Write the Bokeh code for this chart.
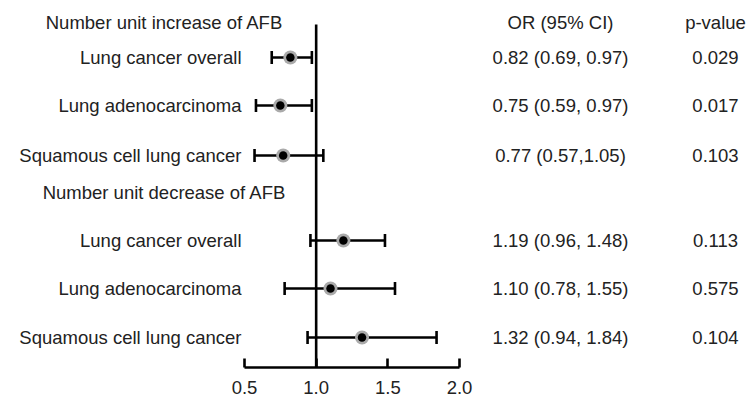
from bokeh.plotting import figure
from bokeh.models import Range1d, ColumnDataSource, LinearAxis, FixedTicker
from bokeh.core.properties import value
from bokeh.embed import file_html
from bokeh.resources import INLINE

# ---- data ----
labels = ["Lung cancer overall", "Lung adenocarcinoma", "Squamous cell lung cancer",
          "Lung cancer overall", "Lung adenocarcinoma", "Squamous cell lung cancer"]
or_vals = [0.82, 0.75, 0.77, 1.19, 1.10, 1.32]
ci_low = [0.69, 0.58, 0.57, 0.96, 0.78, 0.94]
ci_high = [0.97, 0.97, 1.05, 1.48, 1.55, 1.84]
ci_text = ["0.82 (0.69, 0.97)", "0.75 (0.59, 0.97)", "0.77 (0.57,1.05)",
           "1.19 (0.96, 1.48)", "1.10 (0.78, 1.55)", "1.32 (0.94, 1.84)"]
p_text = ["0.029", "0.017", "0.103", "0.113", "0.575", "0.104"]
group_titles = ["Number unit increase of AFB", "Number unit decrease of AFB"]
col_titles = ["OR (95% CI)", "p-value"]
x_ticks = [0.5, 1.0, 1.5, 2.0]

# ---- layout (pixel rows, not data) ----
W, H = 746, 399
BOTTOM = 32
PX_PER_UNIT = 143.33
X0_PX = 244  # pixel of x=0.5
xmin = 0.5 - X0_PX / PX_PER_UNIT
xmax = 0.5 + (W - X0_PX) / PX_PER_UNIT
px2x = lambda px: 0.5 + (px - X0_PX) / PX_PER_UNIT
frame_h = H - BOTTOM
row_y = [57, 105, 155, 240, 288, 337]
header_y = [22, 192]

p = figure(width=W, height=H, output_backend="svg", toolbar_location=None,
           x_range=Range1d(xmin, xmax), y_range=Range1d(frame_h, 0),
           min_border_left=0, min_border_right=0, min_border_top=0,
           min_border_bottom=BOTTOM, x_axis_location=None, y_axis_location=None)
p.outline_line_color = None
p.grid.visible = False
p.background_fill_color = "white"
p.border_fill_color = "white"

FONT = value("Liberation Sans")
FS = "18.5px"
TC = "#222222"

# reference line at 1
p.segment(x0=[1.0], y0=[24], x1=[1.0], y1=[frame_h], line_color="black", line_width=2.6)

cap = 6.5
src = ColumnDataSource(dict(y=row_y, ylo=[s - cap for s in row_y], yhi=[s + cap for s in row_y],
                            lo=ci_low, hi=ci_high, orv=or_vals,
                            lab=labels, ci=ci_text, pv=p_text))
p.segment(x0="lo", y0="y", x1="hi", y1="y", source=src, line_color="black", line_width=2.6)
p.segment(x0="lo", y0="ylo", x1="lo", y1="yhi", source=src, line_color="black", line_width=2.6)
p.segment(x0="hi", y0="ylo", x1="hi", y1="yhi", source=src, line_color="black", line_width=2.6)
p.scatter(x="orv", y="y", source=src, size=14, fill_color="#aaaaaa", line_color=None)
p.scatter(x="orv", y="y", source=src, size=8.5, fill_color="black", line_color=None)

p.text(x=px2x(241), y="y", text="lab", source=src, text_align="right", text_baseline="middle",
       text_font=FONT, text_font_size=FS, text_color=TC)
p.text(x=px2x(560), y="y", text="ci", source=src, text_align="center", text_baseline="middle",
       text_font=FONT, text_font_size=FS, text_color=TC)
p.text(x=px2x(715), y="y", text="pv", source=src, text_align="center", text_baseline="middle",
       text_font=FONT, text_font_size=FS, text_color=TC)
p.text(x=[px2x(164)] * 2, y=header_y, text=group_titles, text_align="center",
       text_baseline="middle", text_font=FONT, text_font_size=FS, text_color=TC)
p.text(x=[px2x(560), px2x(715)], y=[header_y[0]] * 2, text=col_titles, text_align="center",
       text_baseline="middle", text_font=FONT, text_font_size=FS, text_color=TC)

ax = LinearAxis(ticker=FixedTicker(ticks=x_ticks), bounds=(0.5, 2.0))
ax.axis_line_width = 2.6
ax.major_tick_line_width = 2.6
ax.major_tick_in = 9
ax.major_tick_out = 0
ax.minor_tick_line_color = None
ax.major_label_text_font = "Liberation Sans"
ax.major_label_text_font_size = FS
ax.major_label_text_color = TC
ax.major_label_standoff = 13
ax.major_label_overrides = {t: f"{t:.1f}" for t in x_ticks}
p.add_layout(ax, "below")

open("out.html", "w").write(file_html(p, INLINE))
